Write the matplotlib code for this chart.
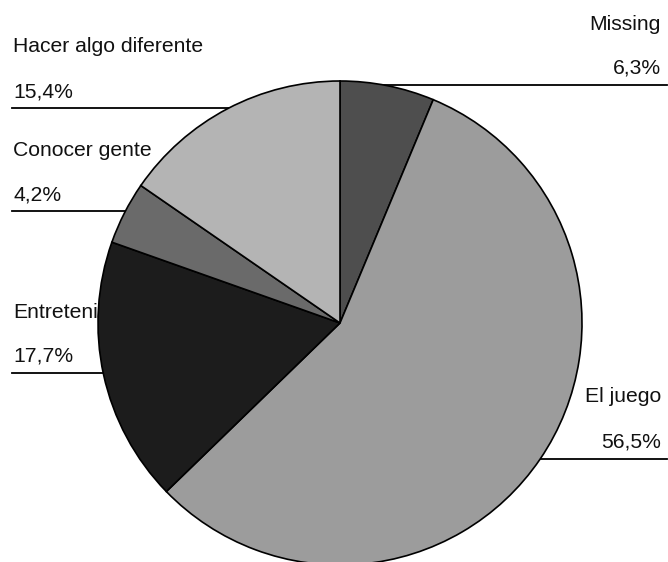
import matplotlib
matplotlib.use('Agg')
import matplotlib.pyplot as plt

# slice data, clockwise from the top
categories = ["Missing", "El juego", "Entretenimiento", "Conocer gente", "Hacer algo diferente"]
shares = [6.3, 56.5, 17.7, 4.2, 15.4]
pct_labels = ["6,3%", "56,5%", "17,7%", "4,2%", "15,4%"]
colors = ["#4e4e4e", "#9c9c9c", "#1c1c1c", "#6a6a6a", "#b4b4b4"]

W, H = 668, 562
fig = plt.figure(figsize=(W / 100, H / 100), dpi=100)
ax = fig.add_axes([0, 0, 1, 1])

cx, cy, r = 340, H - 323, 242
ax.pie(shares, colors=colors, startangle=90, counterclock=False,
       center=(cx, cy), radius=r, frame=True,
       wedgeprops=dict(edgecolor='black', linewidth=1.2, zorder=3))
ax.set_xlim(0, W)
ax.set_ylim(0, H)
ax.set_aspect('equal')
ax.axis('off')

# label placement: (side, name y, pct y, line y) in pixels from top
label_pos = {
    "Missing": ("right", 24, 68, 85),
    "El juego": ("right", 396, 442, 459),
    "Entretenimiento": ("left", 313, 356, 373),
    "Conocer gente": ("left", 151, 195, 211),
    "Hacer algo diferente": ("left", 46, 92, 108),
}

font = dict(family=['Liberation Sans', 'DejaVu Sans'], fontsize=15.2, color='#111111')
for name, pct in zip(categories, pct_labels):
    side, ny, py, ly = label_pos[name]
    if side == "left":
        ax.text(13, H - ny, name, ha='left', va='center', zorder=1, **font)
        ax.text(13, H - py, pct, ha='left', va='center', zorder=1, **font)
        ax.plot([12, cx], [H - ly, H - ly], color='black', lw=1.3, zorder=1)
    else:
        ax.text(661, H - ny, name, ha='right', va='center', zorder=1, **font)
        ax.text(661, H - py, pct, ha='right', va='center', zorder=1, **font)
        ax.plot([cx, 667], [H - ly, H - ly], color='black', lw=1.3, zorder=1)

fig.savefig('out.png', dpi=100, facecolor='white')
